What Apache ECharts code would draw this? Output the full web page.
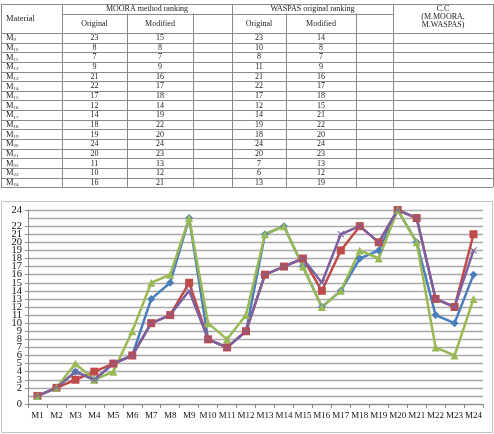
<!DOCTYPE html>
<html><head><meta charset="utf-8">
<script src="https://cdn.jsdelivr.net/npm/echarts@6/dist/echarts.min.js"></script>
<style>html,body{margin:0;padding:0;background:#fff;}#c{width:494px;height:434px;}</style>
</head><body><div id="c"></div>
<script>
// ---- data ----
var categories = ['M1','M2','M3','M4','M5','M6','M7','M8','M9','M10','M11','M12','M13','M14','M15','M16','M17','M18','M19','M20','M21','M22','M23','M24'];
var mooraOriginal  = [1,2,4,3,5,6,13,15,23,8,7,9,21,22,17,12,14,18,19,24,20,11,10,16];
var mooraModified  = [1,2,3,4,5,6,10,11,15,8,7,9,16,17,18,14,19,22,20,24,23,13,12,21];
var waspasOriginal = [1,2,5,3,4,9,15,16,23,10,8,11,21,22,17,12,14,19,18,24,20,7,6,13];
var waspasModified = [1,2,4,3,5,6,10,11,14,8,7,9,16,17,18,15,21,22,20,24,23,13,12,19];
var yTicks = [0,1,2,3,4,5,6,7,8,9,10,11,12,13,14,15,16,17,18,19,20,21,22,23,24];
var tableFirst = 8; // table lists M9..M24
var headMaterial = 'Material';
var headMoora = 'MOORA method ranking';
var headWaspas = 'WASPAS original ranking';
var headSub = ['Original','Modified'];
var headCC = ['C.C','(M.MOORA,','M.WASPAS)'];

// ---- table layout (graphic) ----
var SERIF = '"Liberation Serif","Times New Roman",serif';
var colX = [1,62,127,193,232,286,356,393,493];
var yTop = 4, yMid = 13.5, yHead = 33, rowH = 9.64;
var nRows = categories.length - tableFirst;
var yBot = yHead + nRows*rowH;
var LC = '#8a8a8a';
var g = [];
function px(v){return Math.round(v)+0.5;}
function hline(x1,x2,y){g.push({type:'line',silent:true,shape:{x1:x1,y1:px(y),x2:x2,y2:px(y)},style:{stroke:LC,lineWidth:1}});}
function vline(x,y1,y2){g.push({type:'line',silent:true,shape:{x1:px(x),y1:y1,x2:px(x),y2:y2},style:{stroke:LC,lineWidth:1}});}
function txt(s,x,y,align,size){g.push({type:'text',silent:true,x:x,y:y,style:{text:s,fontFamily:SERIF,fontSize:size||8,fill:'#222',align:align||'center',verticalAlign:'middle'}});}
hline(colX[0],colX[8],yTop);
hline(colX[1],colX[7],yMid);
for (var r=0;r<=nRows;r++) hline(colX[0],colX[8],yHead+r*rowH);
[0,1,4,7,8].forEach(function(i){vline(colX[i],yTop,yBot);});
[2,3,5,6].forEach(function(i){vline(colX[i],yMid,yBot);});
txt(headMaterial,6,18.5,'left',8.5);
txt(headMoora,(colX[1]+colX[4])/2,9);
txt(headWaspas,(colX[4]+colX[7])/2,9);
txt(headSub[0],(colX[1]+colX[2])/2,23.5);
txt(headSub[1],(colX[2]+colX[3])/2,23.5);
txt(headSub[0],(colX[4]+colX[5])/2,23.5);
txt(headSub[1],(colX[5]+colX[6])/2,23.5);
headCC.forEach(function(s,i){txt(s,(colX[7]+colX[8])/2,8.5+i*8.2);});
for (var r=0;r<nRows;r++){
  var k = tableFirst + r, yc = yHead + (r+0.5)*rowH + 0.3;
  var num = categories[k].slice(1);
  g.push({type:'text',silent:true,x:6,y:yc,style:{text:'{m|M}{s|'+num+'}',rich:{m:{fontFamily:SERIF,fontSize:8.5,fill:'#222',verticalAlign:'bottom'},s:{fontFamily:SERIF,fontSize:5,fill:'#222',verticalAlign:'bottom'}},verticalAlign:'middle',align:'left'}});
  txt(String(mooraOriginal[k]),(colX[1]+colX[2])/2,yc);
  txt(String(mooraModified[k]),(colX[2]+colX[3])/2,yc);
  txt(String(waspasOriginal[k]),(colX[4]+colX[5])/2,yc);
  txt(String(waspasModified[k]),(colX[5]+colX[6])/2,yc);
}
// chart frame
g.push({type:'rect',silent:true,z:-10,shape:{x:1.5,y:201.5,width:491,height:231},style:{fill:'none',stroke:'#c4c4c4',lineWidth:1}});

var chart = echarts.init(document.getElementById('c'));
function ser(name,data,color,symbol,size){
  return {name:name,type:'line',data:data,symbol:symbol,symbolSize:size,showSymbol:true,
    lineStyle:{color:color,width:2.5},itemStyle:{color:color},animation:false};
}
chart.setOption({
  animation:false,
  graphic:g,
  grid:{left:28,right:11,top:210,bottom:30,containLabel:false},
  xAxis:{type:'category',data:categories,boundaryGap:true,
    axisLine:{show:true,lineStyle:{color:'#8c8c8c',width:1}},
    axisTick:{show:true,alignWithLabel:false,length:4,lineStyle:{color:'#8c8c8c'}},
    axisLabel:{interval:0,fontFamily:SERIF,fontSize:9,color:'#111',margin:7}},
  yAxis:{type:'value',min:0,max:24,interval:1,
    axisLine:{show:true,lineStyle:{color:'#8c8c8c',width:1}},
    axisTick:{show:true,length:3,lineStyle:{color:'#8c8c8c'}},
    axisLabel:{fontFamily:SERIF,fontSize:10.5,color:'#111',margin:6,
      showMinLabel:true,showMaxLabel:true,hideOverlap:false,
      formatter:function(v){return yTicks.indexOf(v)>=0?String(v):'';}},
    splitLine:{show:true,lineStyle:{color:'#a8a8a8',width:1.3}}},
  series:[
    ser('MOORA Original',mooraOriginal,'#4A7EBB','diamond',8),
    ser('MOORA Modified',mooraModified,'#BE4B48','rect',8),
    ser('WASPAS Original',waspasOriginal,'#98B954','triangle',8),
    ser('WASPAS Modified',waspasModified,'#7D60A0','path://M0,1L1,0L5,4L9,0L10,1L6,5L10,9L9,10L5,6L1,10L0,9L4,5Z',7)
  ]
});
</script></body></html>
